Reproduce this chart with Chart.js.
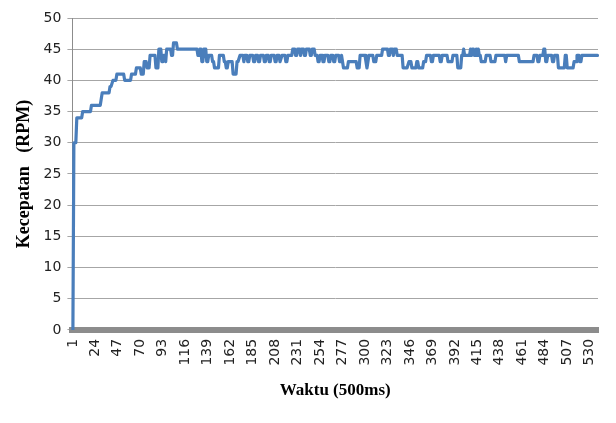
<!DOCTYPE html>
<html>
<head>
<meta charset="utf-8">
<script src="https://cdn.jsdelivr.net/npm/chart.js@4/dist/chart.umd.min.js"></script>
<style>
  html, body { margin: 0; padding: 0; background: #ffffff; }
  #wrap { width: 616px; height: 423px; position: relative; }
</style>
</head>
<body>
<div id="wrap"><canvas id="c"></canvas></div>
<script>
// Motor speed (RPM) sampled every 500 ms
const sampleCount = 538;
const categories = Array.from({ length: sampleCount }, (_, i) => String(i + 1));
const tickLabels = ['1','24','47','70','93','116','139','162','185','208','231','254','277','300',
  '323','346','369','392','415','438','461','484','507','530'];
const yTicks = [0, 5, 10, 15, 20, 25, 30, 35, 40, 45, 50];

const rpm = [
  0,30,30,30,34,34,34,34,34,34,
  35,35,35,35,35,35,35,35,35,36,
  36,36,36,36,36,36,36,36,36,37,
  38,38,38,38,38,38,38,38,39,39,
  39,40,40,40,40,41,41,41,41,41,
  41,41,41,40,40,40,40,40,40,40,
  41,41,41,41,41,42,42,42,42,42,
  41,41,41,43,43,43,42,42,42,44,
  44,44,44,44,44,42,42,42,45,45,
  45,43,43,44,44,43,45,45,45,45,
  45,44,44,46,46,46,46,45,45,45,
  45,45,45,45,45,45,45,45,45,45,
  45,45,45,45,45,45,45,45,44,44,
  45,45,43,43,45,45,45,43,43,44,
  44,44,44,43,43,42,42,42,42,42,
  44,44,44,44,44,43,43,42,42,43,
  43,43,43,43,41,41,41,41,43,43,
  43,44,44,44,44,43,
  44,44,44,43,43,44,44,44,44,43,
  43,44,44,44,43,43,44,44,44,44,
  43,43,44,44,44,43,43,44,44,44,
  44,43,43,44,44,44,43,43,44,44,
  44,44,43,43,44,44,44,44,44,
  45,45,45,44,44,45,45,45,44,45,
  45,45,44,44,45,45,45,45,44,44,
  45,45,45,44,
  44,44,43,43,44,44,44,43,43,44,
  44,44,44,43,43,44,44,44,43,43,
  44,44,44,44,43,43,44,43,
  42,42,42,42,42,43,43,43,43,43,
  43,43,43,43,42,42,42,44,44,44,
  44,44,44,43,42,43,44,44,44,44,
  44,43,43,43,44,44,44,44,44,44,
  45,45,45,45,45,45,44,44,45,45,
  45,44,45,45,45,44,44,44,44,44,
  44,42,42,42,42,42,42,43,43,43,
  42,42,42,42,42,43,43,42,42,42,
  42,42,43,43,43,44,44,44,44,44,
  43,43,44,44,44,44,44,44,44,43,
  43,44,44,44,44,44,44,43,43,43,
  43,43,44,44,44,44,44,42,42,42,
  42,44,44,45,44,44,44,44,44,44,
  45,44,45,45,44,44,45,44,45,44,
  44,43,43,43,43,43,44,44,44,44,
  44,43,43,43,43,43,44,44,44,44,
  44,44,44,44,44,44,43,44,44,44,
  44,44,44,44,44,44,44,44,44,44,
  43,43,43,43,43,43,43,43,43,43,
  43,43,43,43,43,44,44,44,44,43,
  43,44,44,44,44,45,45,43,43,44,
  44,44,44,44,43,43,44,44,44,44,
  42,42,42,42,42,42,42,44,44,42,
  42,42,42,42,42,42,43,43,43,44,
  44,44,43,43,44,44,44,44,44,44,
  44,44,44,44,44,44,44,44,44,44,
  44
];

const tickSet = new Set(tickLabels);

new Chart(document.getElementById('c'), {
  type: 'line',
  data: {
    labels: categories,
    datasets: [{
      data: rpm,
      borderColor: '#4a7ebb',
      borderWidth: 3.2,
      borderJoinStyle: 'round',
      borderCapStyle: 'round',
      pointRadius: 0,
      tension: 0,
      fill: false
    }]
  },
  options: {
    responsive: true,
    maintainAspectRatio: false,
    animation: false,
    devicePixelRatio: 1,
    layout: { padding: { left: 10, top: 18, right: 18, bottom: 18 } },
    plugins: { legend: { display: false }, tooltip: { enabled: false } },
    scales: {
      x: {
        offset: true,
        grid: { display: false, drawTicks: false },
        border: { display: true, color: '#8c8c8c', width: 6 },
        ticks: {
          autoSkip: false,
          maxRotation: 90,
          minRotation: 90,
          padding: 9,
          color: '#222222',
          font: { family: 'DejaVu Sans', size: 14 },
          callback: function (value) {
            const lab = this.getLabelForValue(value);
            return tickSet.has(lab) ? lab : null;
          }
        },
        title: {
          display: true,
          text: 'Waktu (500ms)',
          color: '#000000',
          font: { family: 'Liberation Serif', size: 17, weight: 'bold' },
          padding: { top: 6 }
        }
      },
      y: {
        min: 0,
        max: 50,
        afterBuildTicks: (axis) => { axis.ticks = yTicks.map(v => ({ value: v })); },
        grid: { color: '#a6a6a6', lineWidth: 1, tickLength: 5 },
        border: { display: true, color: '#8c8c8c', width: 1 },
        ticks: {
          padding: 6,
          color: '#222222',
          font: { family: 'DejaVu Sans', size: 14 }
        },
        title: {
          display: true,
          text: 'Kecepatan   (RPM)',
          color: '#000000',
          font: { family: 'Liberation Serif', size: 18, weight: 'bold' },
          padding: { bottom: 2 }
        }
      }
    }
  }
});
</script>
</body>
</html>
